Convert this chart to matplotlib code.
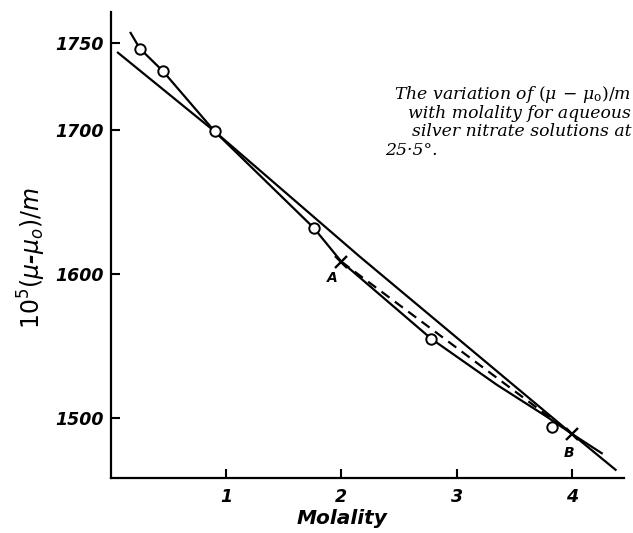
import numpy as np
import matplotlib
matplotlib.use('Agg')
from matplotlib import pyplot as plt


# values (molality, 10^5 (mu - mu0)/m)
circle_molality = [0.25, 0.45, 0.90, 1.76, 2.78, 3.83]
circle_values = [1747, 1734, 1699, 1632, 1555, 1494]

# smooth curve drawn through the measured points
curve_molality = [0.17, 0.25, 0.45, 0.90, 1.76, 2.00, 2.78, 3.35, 3.78, 4.00, 4.26]
curve_values = [1756, 1747, 1734, 1699, 1632, 1608.5, 1555, 1523, 1501, 1489, 1475.5]

# the near-straight solid line crossing the curve
line_molality = [0.06, 0.90, 2.16, 4.00, 4.38]
line_values = [1744.6, 1699, 1612, 1489, 1464]

# marked points joined by the dashed chord
point_names = ['A', 'B']
point_molality = [2.0, 4.0]
point_values = [1608.5, 1489]

x_ticks = [1, 2, 3, 4]
y_ticks = [1500, 1600, 1700, 1750]

note_lines = [
    r'The variation of $(\mu\,-\,\mu_{\mathrm{o}})/m$',
    'with molality for aqueous',
    'silver nitrate solutions at',
]
note_last = '25·5°.'

# the original axis spaces 1700-1750 wider than the rest
KNEE = 1700
UPPER_STRETCH = 1.204


def forward(v):
    v = np.asarray(v, dtype=float)
    return np.where(v > KNEE, KNEE + (v - KNEE) * UPPER_STRETCH, v)


def inverse(u):
    u = np.asarray(u, dtype=float)
    return np.where(u > KNEE, KNEE + (u - KNEE) / UPPER_STRETCH, u)


plt.rcParams['font.family'] = ['DejaVu Sans']
plt.rcParams['mathtext.fontset'] = 'dejavusans'

fig = plt.figure(figsize=(6.33, 5.33), dpi=100)
ax = fig.add_axes([0.1754, 0.1032, 0.8098, 0.8734])
ax.set_yscale('function', functions=(forward, inverse))

lw = 1.6
ax.plot(curve_molality, curve_values, color='black', lw=lw, zorder=2)
ax.plot(line_molality, line_values, color='black', lw=lw, zorder=2)
ax.plot(point_molality, point_values, color='black', lw=lw,
        dashes=(4.5, 3), zorder=2)
ax.plot(circle_molality, circle_values, linestyle='none', marker='o',
        markersize=7.5, markerfacecolor='white', markeredgecolor='black',
        markeredgewidth=1.4, zorder=3)
ax.plot(point_molality, point_values, linestyle='none', marker='x',
        markersize=8, markeredgecolor='black', markeredgewidth=1.7, zorder=3)
label_offsets = [(-6.5, -12), (-2, -14)]
for name, mx, my, off in zip(point_names, point_molality, point_values, label_offsets):
    ax.annotate(name, (mx, my), xytext=off, textcoords='offset points',
                ha='center', va='center', fontsize=10, fontweight='bold',
                style='italic')

ax.set_xlim(0, 4.45)
ax.set_ylim(1458.3, 1767.8)
ax.set_xticks(x_ticks)
ax.set_xticklabels([str(t) for t in x_ticks])
ax.set_yticks(y_ticks)
ax.set_yticklabels([str(t) for t in y_ticks])
ax.minorticks_off()
for label in ax.get_xticklabels() + ax.get_yticklabels():
    label.set_style('italic')
    label.set_fontweight('bold')
    label.set_fontsize(12.5)
ax.tick_params(direction='in', length=6.5, width=1.5, color='black')
ax.tick_params(axis='x', pad=7)
ax.tick_params(axis='y', pad=5)

for side in ('top', 'right'):
    ax.spines[side].set_visible(False)
for side in ('left', 'bottom'):
    ax.spines[side].set_linewidth(1.6)

ax.set_xlabel('Molality', fontsize=14.5, style='italic', fontweight='bold',
              va='center')
ax.xaxis.set_label_coords(0.45, -0.088)
ax.set_ylabel(r'$10^{5}(\mu$-$\mu_{o})/m$', fontsize=17, style='italic',
              fontweight='bold', va='center')
ax.yaxis.set_label_coords(-0.154, 0.472)

for i, text in enumerate(note_lines):
    fig.text(631 / 633, 1 - (99 + 18.5 * i) / 533, text, ha='right',
             va='baseline', fontsize=12.4, family='DejaVu Serif',
             style='italic', math_fontfamily='dejavuserif')
fig.text(385 / 633, 1 - 154.5 / 533, note_last, ha='left', va='baseline',
         fontsize=12.4, family='DejaVu Serif', style='italic')

fig.savefig('out.png', dpi=100)
plt.close()
